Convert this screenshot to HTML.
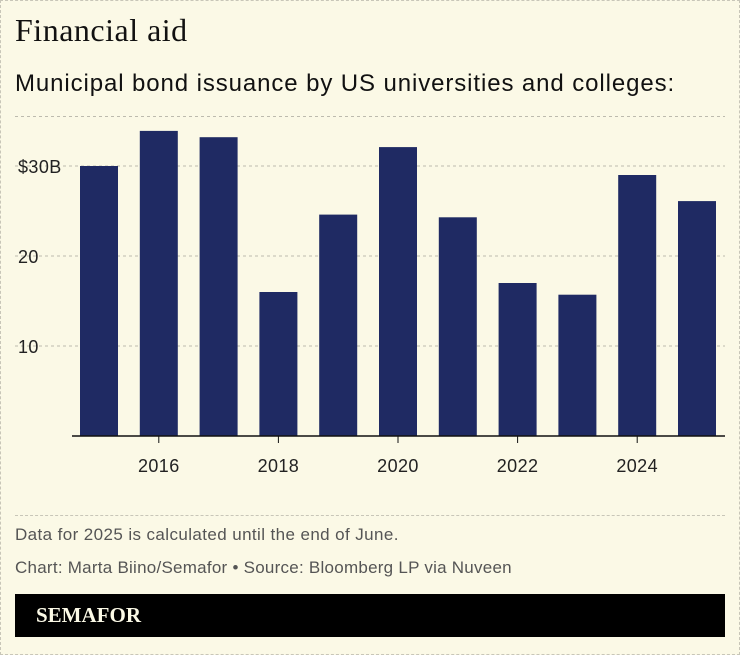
<!DOCTYPE html>
<html><head><meta charset="utf-8"><style>
body{margin:0;width:740px;height:655px;background:#fbf9e6;overflow:hidden;font-family:"Liberation Sans",sans-serif}
#frame{position:absolute;left:0;top:0;width:738px;height:653px;border:1px dashed #c8c6b8}
.t{position:absolute;white-space:nowrap}
</style></head><body>
<div id="frame"></div>
<div class="t" style="left:15px;top:12px;font-family:'Liberation Serif',serif;font-size:32px;letter-spacing:0.5px;color:#111">Financial aid</div>
<div class="t" style="left:15px;top:70px;font-size:24px;letter-spacing:0.9px;color:#111">Municipal bond issuance by US universities and colleges:</div>
<svg id="chart" width="740" height="655" style="position:absolute;left:0;top:0"></svg>
<div style="position:absolute;left:15px;top:515px;width:710px;border-top:1px dashed #c8c6b8"></div>
<div class="t" style="left:15px;top:525px;font-size:17px;letter-spacing:0.4px;color:#555">Data for 2025 is calculated until the end of June.</div>
<div class="t" style="left:15px;top:558px;font-size:17px;letter-spacing:0.25px;color:#555">Chart: Marta Biino/Semafor • Source: Bloomberg LP via Nuveen</div>
<div style="position:absolute;left:15px;top:594px;width:710px;height:43px;background:#000">
<span style="position:absolute;left:21px;top:9px;font-family:'Liberation Serif',serif;font-weight:bold;font-size:21px;color:#fbf9e6">SEMAFOR</span></div>
<script>
const years=[2015,2016,2017,2018,2019,2020,2021,2022,2023,2024,2025];
const values=[30.0,33.9,33.2,16.0,24.6,32.1,24.3,17.0,15.7,29.0,26.1];
const yTicks=[10,20,30,35.5];
const yTickLabels=["10","20","$30B",""];
const xTicks=[2016,2018,2020,2022,2024];
const svg=document.getElementById('chart');const NS='http://www.w3.org/2000/svg';
const y=v=>436-v*9;
const x=yr=>99+(yr-2015)*59.8;
function el(t,a){const e=document.createElementNS(NS,t);for(const k in a)e.setAttribute(k,a[k]);svg.appendChild(e);return e;}
yTicks.forEach((v,i)=>{
 const l=el('line',{x1:15,x2:725,y1:y(v),y2:y(v),stroke:'#bdbbae','stroke-dasharray':'3,3'});
 
 
 if(yTickLabels[i]){const t=el('text',{x:18,y:y(v)+7,'font-size':'18','letter-spacing':'0.4',fill:'#222','font-family':'Liberation Sans, sans-serif'});t.textContent=yTickLabels[i];
 
 }
});
years.forEach((yr,i)=>{
 const r=el('rect',{x:x(yr)-19,y:y(values[i]),width:38,height:436-y(values[i]),fill:'#1f2a63'});
 
 
});
const ax=el('line',{x1:72,x2:725,y1:436,y2:436,stroke:'#111','stroke-width':1.5});


xTicks.forEach(yr=>{
 const tk=el('line',{x1:x(yr),x2:x(yr),y1:436,y2:443,stroke:'#111'});
 
 
 const t=el('text',{x:x(yr),y:472,'text-anchor':'middle','font-size':'18','letter-spacing':'0.4',fill:'#222','font-family':'Liberation Sans, sans-serif'});t.textContent=yr;
 
 
});
</script>
</body></html>
